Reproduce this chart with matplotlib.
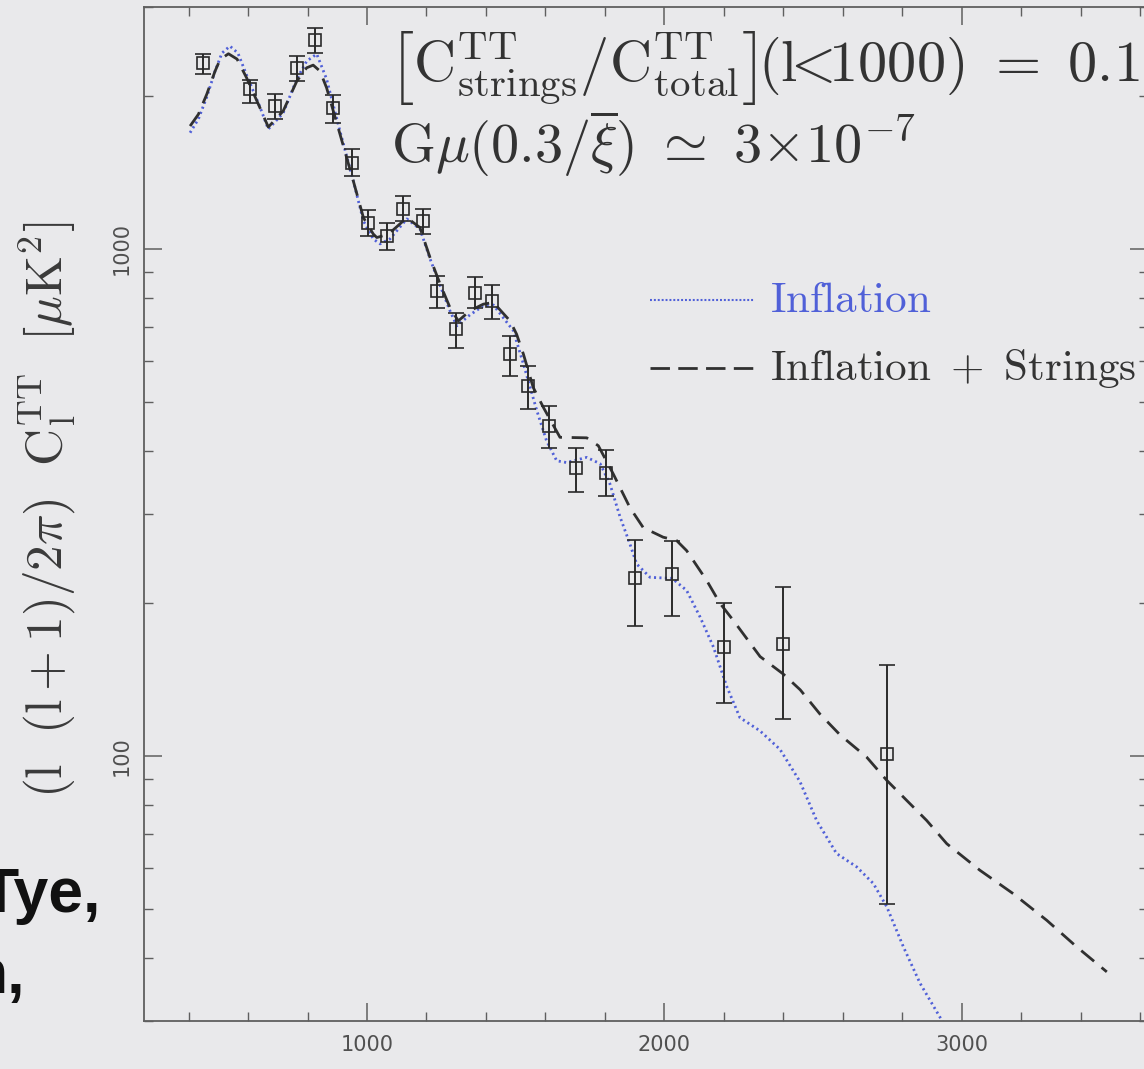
import matplotlib
matplotlib.use("Agg")
import matplotlib.pyplot as plt
from matplotlib import font_manager
from matplotlib.lines import Line2D
from matplotlib.ticker import MultipleLocator, LogLocator, FuncFormatter, NullFormatter

# Band powers: multipole, D_l and the upper / lower ends of each error bar [muK^2]
ell_data = [450, 605, 690, 763, 825, 887, 948, 1004, 1066, 1122, 1187, 1234, 1299,
            1363, 1419, 1481, 1540, 1613, 1703, 1804, 1900, 2026, 2201, 2400, 2750]
D_data = [2328, 2064, 1913, 2276, 2578, 1898, 1479, 1127, 1061, 1197, 1135, 826, 695,
          820, 790, 620, 537, 447, 370, 362, 224, 228, 164, 166, 101]
D_hi = [2426, 2149, 2018, 2401, 2730, 2009, 1572, 1192, 1127, 1272, 1197, 885, 749,
        881, 849, 674, 588, 490, 405, 401, 267, 265, 200, 215, 151]
D_lo = [2215, 1942, 1801, 2143, 2437, 1774, 1392, 1061, 994, 1135, 1069, 766, 639,
        766, 727, 562, 483, 405, 332, 325, 180, 189, 127, 118, 51]

# Inflation-only model spectrum
ell_infl = [405, 433, 461, 489, 512, 539, 566, 595, 640, 668, 718, 764, 797, 831, 864,
            909, 954, 988, 1021, 1044, 1077, 1134, 1178, 1212, 1246, 1279, 1302, 1346,
            1391, 1425, 1492, 1526, 1571, 1604, 1638, 1671, 1739, 1784, 1817, 1851, 1884,
            1907, 1952, 2026, 2075, 2120, 2165, 2210, 2254, 2322, 2389, 2456, 2512, 2579,
            2647, 2703, 2748, 2804, 2860, 2933, 2960]
D_infl = [1695, 1804, 1993, 2242, 2433, 2512, 2433, 2202, 1905, 1723, 1853, 2163, 2346,
          2423, 2163, 1708, 1361, 1135, 1046, 1023, 1046, 1146, 1095, 956, 846, 755, 705,
          741, 772, 775, 690, 593, 480, 418, 382, 379, 388, 377, 344, 296, 262, 239, 225,
          224, 212, 188, 164, 137, 119, 112, 103, 89, 74.6, 64.2, 60.4, 56.0, 50.4, 42.0,
          35.6, 30.1, 28.0]

# Inflation + cosmic strings model spectrum
ell_str = [405, 433, 461, 489, 506, 534, 563, 595, 640, 668, 718, 764, 797, 819, 842,
           864, 909, 954, 988, 1021, 1033, 1072, 1134, 1178, 1212, 1246, 1279, 1307, 1346,
           1391, 1425, 1481, 1503, 1526, 1559, 1593, 1649, 1739, 1778, 1828, 1884, 1929,
           1996, 2041, 2075, 2142, 2187, 2232, 2322, 2400, 2457, 2523, 2591, 2680, 2748,
           2815, 2882, 2950, 3061, 3173, 3286, 3387, 3488]
D_str = [1747, 1843, 2018, 2242, 2364, 2426, 2368, 2175, 1898, 1739, 1870, 2143, 2276,
         2304, 2242, 2079, 1685, 1361, 1152, 1070, 1053, 1069, 1152, 1102, 961, 852, 766,
         721, 755, 778, 784, 721, 679, 620, 533, 487, 425, 424, 409, 360, 309, 282, 270,
         266, 254, 222, 200, 185, 157, 145, 135, 121, 110, 99.5, 89.5, 81.7, 74.6, 67.1,
         59.5, 53.5, 47.4, 42.0, 37.5]

x_major_labels = ["1000", "2000", "3000"]

plt.rcParams["mathtext.fontset"] = "cm"
plt.rcParams["lines.scale_dashes"] = False

BG = "#e9e9eb"
INK = "#2a2a2a"
BLUE = "#5060d8"
AXIS = "#5f5f5f"

avail = {f.name for f in font_manager.fontManager.ttflist}
tick_font = "Liberation Sans Narrow" if "Liberation Sans Narrow" in avail else "DejaVu Sans"
tick_size = 20 if tick_font == "Liberation Sans Narrow" else 15

W, H = 1144, 1069
fig = plt.figure(figsize=(W / 100, H / 100), dpi=100, facecolor=BG)


def fx(x):
    return x / W


def fy(y):
    return 1 - y / H


ax = fig.add_axes([fx(144), fy(1021), (1148 - 144) / W, (1021 - 7) / H])
ax.set_facecolor(BG)
ax.set_yscale("log")
ax.set_xlim(250, 250 + (1148 - 144) * 3.3631)
ax.set_ylim(30, 3000)

# model curves
ax.plot(ell_infl, D_infl, color=BLUE, lw=2.0, dashes=(1.5, 2.4), zorder=2)
ax.plot(ell_str, D_str, color="#303030", lw=2.0, dashes=(12, 7), zorder=2.5)

# band powers with error bars
err_lo = [d - lo for d, lo in zip(D_data, D_lo)]
err_hi = [hi - d for d, hi in zip(D_data, D_hi)]
ax.errorbar(ell_data, D_data, yerr=[err_lo, err_hi], fmt="s", ms=8.5, mfc="none",
            mec=INK, mew=1.2, ecolor=INK, elinewidth=1.4, capsize=6, capthick=1.5,
            zorder=3)

# axes styling
for sp in ax.spines.values():
    sp.set_color(AXIS)
    sp.set_linewidth(1.3)
ax.xaxis.set_major_locator(MultipleLocator(1000))
ax.xaxis.set_minor_locator(MultipleLocator(200))
ax.yaxis.set_major_locator(LogLocator(base=10))
ax.yaxis.set_minor_locator(LogLocator(base=10, subs=range(2, 10)))
ax.yaxis.set_major_formatter(FuncFormatter(lambda v, _: f"{v:g}"))
ax.yaxis.set_minor_formatter(NullFormatter())
ax.set_xticks([1000, 2000, 3000])
ax.set_xticklabels(x_major_labels)
ax.tick_params(which="both", direction="in", top=True, right=True, color=AXIS,
               labelcolor="#505050")
ax.tick_params(which="major", length=13, width=1.1)
ax.tick_params(which="minor", length=6.5, width=1.0)
ax.tick_params(axis="x", pad=10)
ax.tick_params(axis="y", pad=9)
for lab in ax.get_xticklabels() + ax.get_yticklabels():
    lab.set_fontfamily(tick_font)
    lab.set_fontsize(tick_size)
for lab in ax.get_yticklabels():
    lab.set_rotation(90)
    lab.set_va("center")

# axis label
fig.text(fx(47), fy(222),
         r"$(\mathrm{l}\ \ (\mathrm{l}+1)/2\pi)\ \ \mathrm{C}_{\mathrm{l}}^{\mathrm{TT}}\ \ [\mu\mathrm{K}^2]$",
         rotation=90, rotation_mode="anchor", ha="right", va="center",
         fontsize=37, color="#3a3a3a")

# annotations
fig.text(fx(388), fy(82),
         r"$\left[\mathrm{C}^{\mathrm{TT}}_{\mathrm{strings}}/\mathrm{C}^{\mathrm{TT}}_{\mathrm{total}}\right]\!(\mathrm{l}\!\!<\!\!1000)\ =\ 0.1$",
         ha="left", va="baseline", fontsize=42, color="#333333")
fig.text(fx(391), fy(163),
         r"$\mathrm{G}\mu(0.3/\overline{\xi})\ \simeq\ 3{\times}10^{-7}$",
         ha="left", va="baseline", fontsize=40.5, color="#333333")

# legend
fig.add_artist(Line2D([fx(650), fx(755)], [fy(300), fy(300)], color=BLUE, lw=1.5,
                      dashes=(1.4, 1.4)))
fig.add_artist(Line2D([fx(650), fx(755)], [fy(368), fy(368)], color="#303030", lw=2.0,
                      dashes=(14, 6)))
fig.text(fx(770), fy(300), r"$\mathrm{Inflation}$", ha="left", va="center",
         fontsize=31, color=BLUE)
fig.text(fx(770), fy(368), r"$\mathrm{Inflation\ +\ Strings}$", ha="left", va="center",
         fontsize=31, color="#333333")

# fragments of the slide's author list
fig.text(fx(101), fy(912), "Tye,", ha="right", va="baseline", fontsize=45,
         family="Liberation Sans", weight="bold", color="#111111")
fig.text(fx(25), fy(993), "n,", ha="right", va="baseline", fontsize=45,
         family="Liberation Sans", weight="bold", color="#111111")

fig.savefig("out.png", dpi=100, facecolor=BG)
